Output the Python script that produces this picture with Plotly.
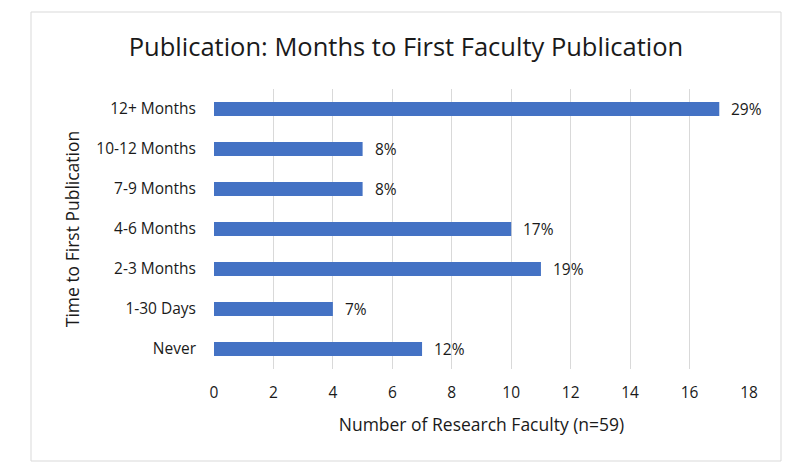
import plotly.graph_objects as go

categories = ["Never", "1-30 Days", "2-3 Months", "4-6 Months", "7-9 Months", "10-12 Months", "12+ Months"]
counts = [7, 4, 11, 10, 5, 5, 17]
pct_labels = ["12%", "7%", "19%", "17%", "8%", "8%", "29%"]
x_ticks = [0, 2, 4, 6, 8, 10, 12, 14, 16, 18]

FONT = "Open Sans"
TXT = "#1a1a1a"

# page body adds an 8px offset; figure is sized to fill the rest of the window
W, H = 795, 462
L, R, T, B = 206, 54, 81, 101
pw, ph = W - L - R, H - T - B

fig = go.Figure()
fig.add_trace(go.Bar(
    y=categories, x=counts, orientation="h",
    marker=dict(color="#4472C4", line=dict(width=0)),
    width=0.35,
    hoverinfo="skip",
))

for c, v, p in zip(categories, counts, pct_labels):
    fig.add_annotation(x=v, y=c, text=p, showarrow=False, xanchor="left",
                       xshift=10, font=dict(family=FONT, size=15.5, color=TXT))

fig.update_layout(
    width=W, height=H,
    margin=dict(l=L, r=R, t=T, b=B),
    paper_bgcolor="white", plot_bgcolor="white",
    showlegend=False,
    title=dict(text="Publication: Months to First Faculty Publication",
               x=(406 - 8) / W, xanchor="center", y=1 - (47 - 8) / H, yanchor="middle",
               font=dict(family=FONT, size=25.5, color=TXT)),
    xaxis=dict(range=[0, 18], tickvals=x_ticks, showgrid=True, gridcolor="#D9D9D9",
               gridwidth=1, zeroline=False, showline=False, ticks="", ticklabelstandoff=12,
               tickfont=dict(family=FONT, size=15.5, color=TXT),
               title=dict(text="Number of Research Faculty (n=59)", standoff=17,
                          font=dict(family=FONT, size=17.5, color=TXT))),
    yaxis=dict(categoryorder="array", categoryarray=categories, showgrid=False,
               zeroline=False, showline=False, ticks="", ticklabelstandoff=17,
               tickfont=dict(family=FONT, size=15.5, color=TXT),
               title=dict(text="Time to First Publication", standoff=12,
                          font=dict(family=FONT, size=17.5, color=TXT))),
    shapes=[dict(type="rect", xref="paper", yref="paper",
                 x0=(23 - L) / pw, x1=(773 - L) / pw,
                 y0=1 - (453 - T) / ph, y1=1 - (4 - T) / ph,
                 line=dict(color="#D9D9D9", width=1), fillcolor="rgba(0,0,0,0)", layer="below")],
)

fig.write_html("out.html")
